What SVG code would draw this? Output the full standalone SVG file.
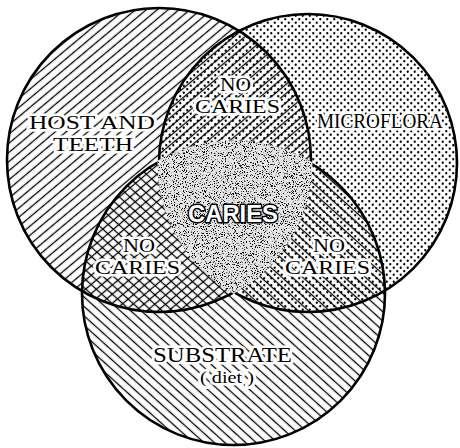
<svg xmlns="http://www.w3.org/2000/svg" width="460" height="448" viewBox="0 0 460 448">
<style>
.outline{fill:none;stroke:#000;stroke-width:2.6}
.lbl{font-family:"Liberation Serif","Times New Roman",serif;font-size:19.5px;fill:#000;stroke:#fff;stroke-width:5;stroke-linejoin:round;paint-order:stroke}
.big{font-size:21px}
.small{font-size:16.5px}
.core{font-family:"Liberation Sans",Arial,sans-serif;font-weight:bold;font-size:24px;fill:#fff;stroke:#000;stroke-width:3;stroke-linejoin:round;paint-order:stroke}
</style>
<defs>
<pattern id="hatchUp" patternUnits="userSpaceOnUse" width="7" height="7" patternTransform="rotate(-40)">
<line x1="-1" y1="3.5" x2="8" y2="3.5" stroke="#000" stroke-width="1.3"/>
</pattern>
<pattern id="hatchDown" patternUnits="userSpaceOnUse" width="7" height="7" patternTransform="rotate(42)">
<line x1="-1" y1="3.5" x2="8" y2="3.5" stroke="#000" stroke-width="1.3"/>
</pattern>
<pattern id="dots" patternUnits="userSpaceOnUse" width="7" height="7">
<circle cx="1.75" cy="1.75" r="1.15" fill="#000"/>
<circle cx="5.25" cy="5.25" r="1.15" fill="#000"/>
</pattern>
<filter id="stipple" x="0" y="0" width="1" height="1" color-interpolation-filters="sRGB">
<feTurbulence type="fractalNoise" baseFrequency="0.9" numOctaves="3" seed="7"/>
<feColorMatrix type="matrix" values="0 0 0 0 0  0 0 0 0 0  0 0 0 0 0  10 0 0 0 -5.7"/>
<feComposite in2="SourceAlpha" operator="in"/>
</filter>
</defs>
<rect width="460" height="448" fill="#fff"/>
<g id="node-host">
<circle cx="159" cy="160" r="152" fill="url(#hatchUp)"/>
</g>
<g id="node-microflora">
<circle cx="308" cy="163" r="149" fill="url(#dots)"/>
</g>
<g id="node-substrate">
<circle cx="233.5" cy="293.5" r="151.5" fill="url(#hatchDown)"/>
</g>
<g id="outlines">
<circle class="outline" cx="159" cy="160" r="152"/>
<circle class="outline" cx="308" cy="163" r="149"/>
<circle class="outline" cx="233.5" cy="293.5" r="151.5"/>
</g>
<g id="node-caries">
<path d="M159,161.6 A151.5,151.5 0 0 1 311,163.3 A152,152 0 0 1 233.9,292.2 A149,149 0 0 1 159,161.6 Z" fill="#e4e4e4" stroke="#e4e4e4" stroke-width="3"/>
<path d="M159,161.6 A151.5,151.5 0 0 1 311,163.3 A152,152 0 0 1 233.9,292.2 A149,149 0 0 1 159,161.6 Z" fill="#000" stroke="#000" stroke-width="3" filter="url(#stipple)"/>
<text class="core" x="188" y="222" textLength="90" lengthAdjust="spacingAndGlyphs">CARIES</text>
</g>
<g id="labels">
<text class="lbl" x="29" y="129" textLength="126" lengthAdjust="spacingAndGlyphs">HOST AND</text>
<text class="lbl" x="53" y="151" textLength="80" lengthAdjust="spacingAndGlyphs">TEETH</text>
<text class="lbl big" x="317" y="128" textLength="126" lengthAdjust="spacingAndGlyphs">MICROFLORA</text>
<text class="lbl" x="220" y="91" textLength="31" lengthAdjust="spacingAndGlyphs">NO</text>
<text class="lbl" x="195" y="113" textLength="85" lengthAdjust="spacingAndGlyphs">CARIES</text>
<text class="lbl" x="123" y="252" textLength="32" lengthAdjust="spacingAndGlyphs">NO</text>
<text class="lbl" x="95" y="274" textLength="85" lengthAdjust="spacingAndGlyphs">CARIES</text>
<text class="lbl" x="313" y="252" textLength="32" lengthAdjust="spacingAndGlyphs">NO</text>
<text class="lbl" x="285" y="274" textLength="85" lengthAdjust="spacingAndGlyphs">CARIES</text>
<text class="lbl big" x="153" y="362" textLength="139" lengthAdjust="spacingAndGlyphs">SUBSTRATE</text>
<text class="lbl small" x="200" y="383" textLength="54" lengthAdjust="spacingAndGlyphs">( diet )</text>
</g>
</svg>
